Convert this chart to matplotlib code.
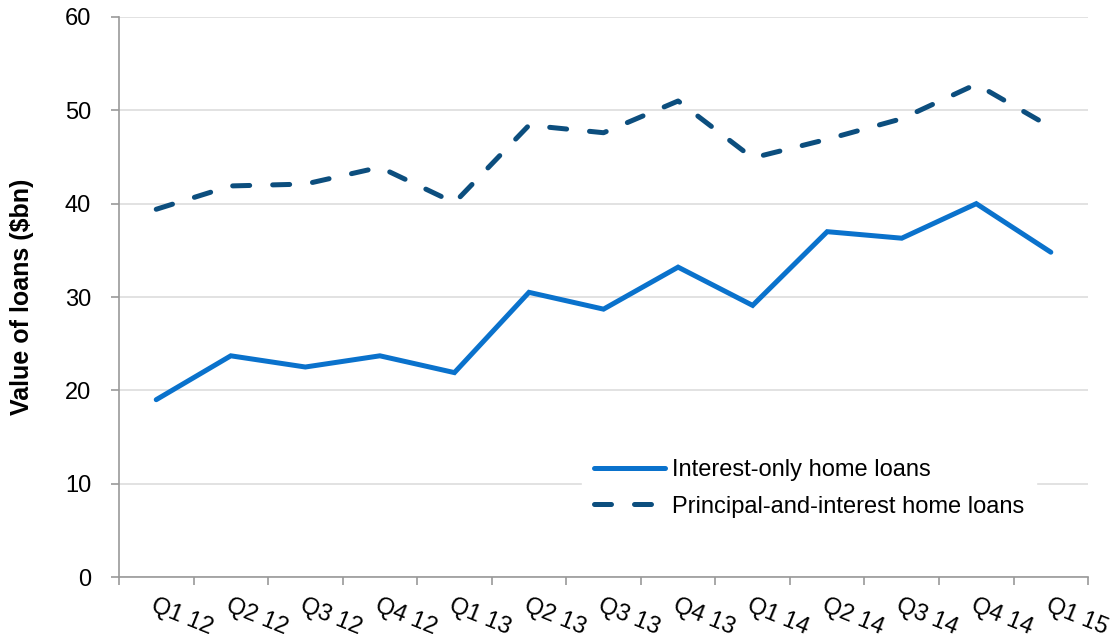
import matplotlib
matplotlib.use('Agg')
import matplotlib.pyplot as plt
import numpy as np

QUARTERS = ['Q1 12', 'Q2 12', 'Q3 12', 'Q4 12', 'Q1 13', 'Q2 13', 'Q3 13',
            'Q4 13', 'Q1 14', 'Q2 14', 'Q3 14', 'Q4 14', 'Q1 15']
INTEREST_ONLY = [19.0, 23.7, 22.5, 23.7, 21.9, 30.5, 28.7, 33.2, 29.1,
                 37.0, 36.3, 40.0, 34.8]
PRINCIPAL_AND_INTEREST = [39.4, 41.9, 42.1, 43.9, 40.1, 48.4, 47.6, 51.0,
                          44.9, 46.9, 49.1, 52.8, 48.2]

plt.rcParams['font.family'] = ['Liberation Sans', 'DejaVu Sans']

fig = plt.figure(figsize=(11.16, 6.41), dpi=100)
ax = fig.add_axes([0.1066, 0.0998, 0.8684, 0.8737])

x = np.arange(len(QUARTERS))
ax.plot(x, INTEREST_ONLY, '-', color='#0A72CC', linewidth=3.6,
        solid_capstyle='round', solid_joinstyle='miter',
        label='Interest-only home loans', zorder=3)
ax.plot(x, PRINCIPAL_AND_INTEREST, '--', color='#0C4E7E', linewidth=3.6,
        dashes=(3.4, 4.6), dash_capstyle='round',
        label='Principal-and-interest home loans', zorder=3)

ax.set_xlim(-0.5, len(QUARTERS) - 0.5)
ax.set_ylim(0, 60)
ax.set_yticks(range(0, 61, 10))
ax.yaxis.grid(True, color='#DDDDDD', linewidth=1.2, zorder=0)
ax.set_axisbelow(True)

# category boundaries as ticks, labels centred on categories
ax.set_xticks(np.arange(-0.5, len(QUARTERS), 1.0))
ax.set_xticklabels([])
ax.set_xticks(x, minor=True)
ax.set_xticklabels(QUARTERS, minor=True, rotation=-22, ha='left', va='top',
                   rotation_mode='anchor', fontsize=17)
ax.tick_params(axis='x', which='minor', length=0, pad=13)
ax.tick_params(axis='x', which='major', length=6, color='#999999', width=1.2)
ax.tick_params(axis='y', length=6, color='#999999', width=1.2, labelsize=17,
               pad=14)

for side in ['top', 'right']:
    ax.spines[side].set_visible(False)
for side in ['left', 'bottom']:
    ax.spines[side].set_color('#999999')
    ax.spines[side].set_linewidth(1.2)

ax.set_ylabel('Value of loans ($bn)', fontsize=18, fontweight='bold', labelpad=22)

leg = ax.legend(loc='center left', bbox_to_anchor=(0.478, 0.158), fontsize=17,
                frameon=True, framealpha=1.0, edgecolor='white', fancybox=False,
                handlelength=3.0, handletextpad=0.3, borderpad=0.5,
                labelspacing=0.6, borderaxespad=0)

plt.savefig('out.png', dpi=100)
